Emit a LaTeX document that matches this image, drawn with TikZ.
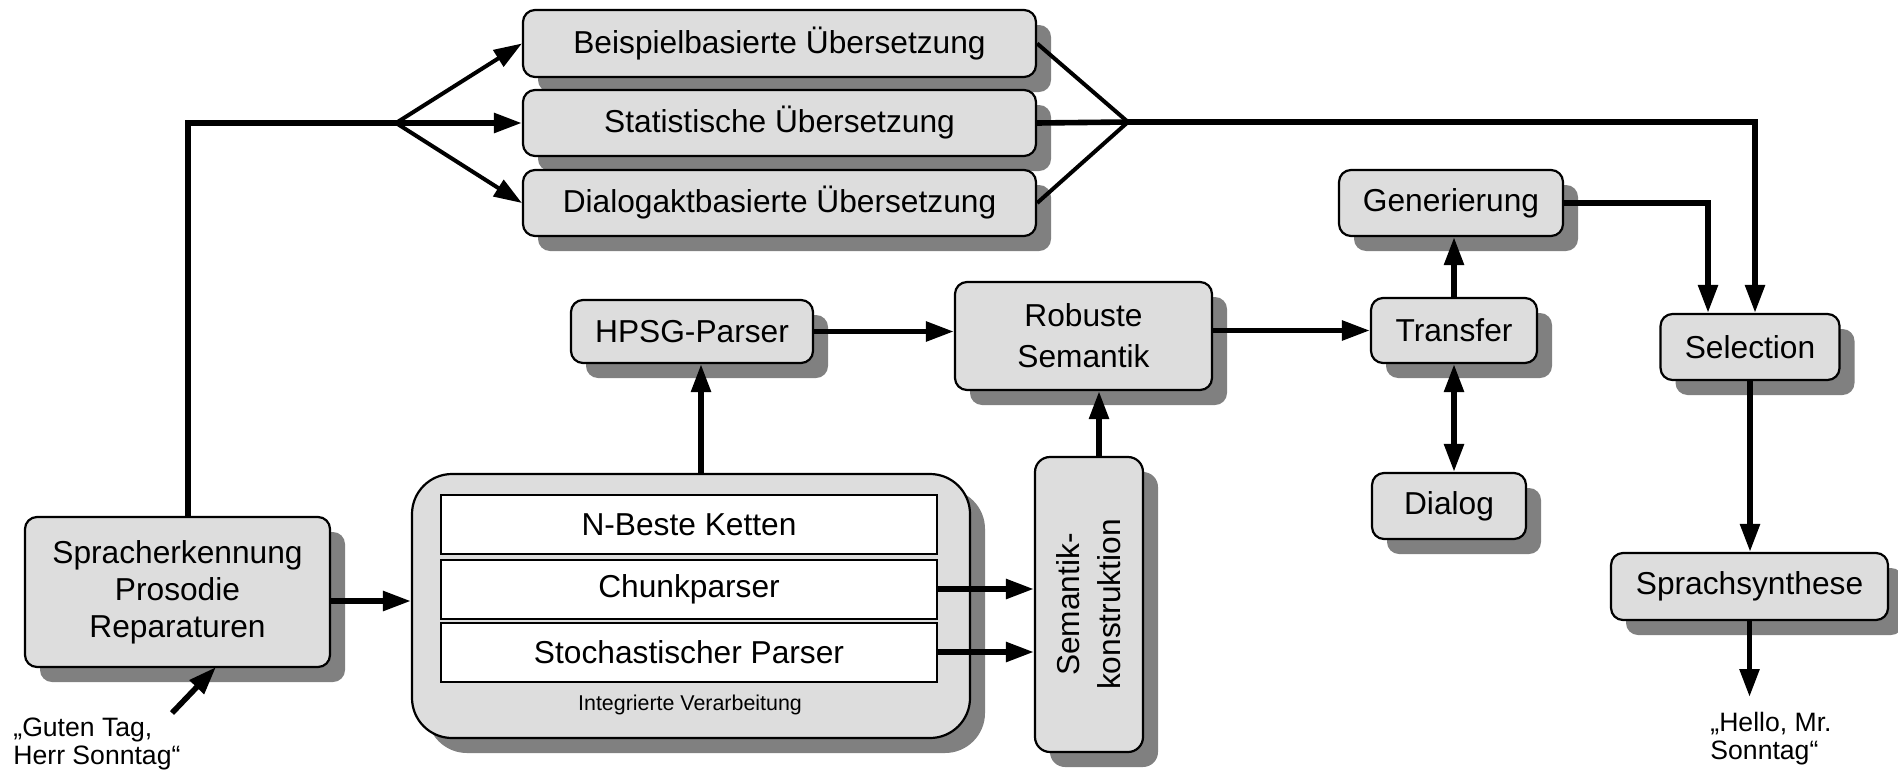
\documentclass[tikz,border=0pt]{standalone}
\usepackage{fontspec}
\setmainfont{Liberation Sans}
\usetikzlibrary{arrows.meta,shadows}
\definecolor{boxgray}{HTML}{DDDDDD}
\definecolor{shadegray}{HTML}{808080}

\begin{document}
\begin{tikzpicture}[x=0.5pt,y=-0.5pt,
  boxfont/.style={font=\fontsize{15.85}{18.5}\selectfont},
  box/.style={draw=black, line width=1.1pt, fill=boxgray, rounded corners=6pt,
    inner sep=0pt, align=center, boxfont,
    drop shadow={shadow xshift=7.5pt, shadow yshift=-7.5pt, fill=shadegray, opacity=1}},
  inner/.style={draw=black, line width=1pt, fill=white, inner sep=0pt,
    minimum width=248pt, minimum height=29.5pt, boxfont},
  conn/.style={line width=2.8pt, line join=miter},
  connthin/.style={line width=2pt},
  arr/.style={conn, -{Triangle[length=14pt,width=9.5pt]}},
  arrthin/.style={connthin, -{Triangle[length=14pt,width=9.5pt]}},
  dblarr/.style={conn, {Triangle[length=14pt,width=9.5pt]}-{Triangle[length=14pt,width=9.5pt]}},
  quote/.style={align=left, inner sep=0pt, font=\fontsize{13.3}{14}\selectfont}]

\useasboundingbox (0,0) rectangle (1898,771);

% translation branches
\node[box, minimum width=256.5pt, minimum height=33.5pt] (bsp)  at (779.5,43.5) {Beispielbasierte Übersetzung};
\node[box, minimum width=256.5pt, minimum height=33pt]   (stat) at (779.5,123)  {Statistische Übersetzung};
\node[box, minimum width=256.5pt, minimum height=33pt]   (dlg)  at (779.5,203)  {Dialogaktbasierte Übersetzung};

% deep analysis chain
\node[box, minimum width=121pt, minimum height=31.5pt]  (hpsg)  at (692,331.5)  {HPSG-Parser};
\node[box, minimum width=128.5pt, minimum height=54pt,
      font=\fontsize{15.85}{20.5}\selectfont] (rob) at (1083.5,336) {Robuste\\Semantik};
\node[box, minimum width=83pt, minimum height=32.5pt]   (trans) at (1454,330.5) {Transfer};
\node[box, minimum width=112pt, minimum height=33pt]    (gen)   at (1451,203)   {Generierung};
\node[box, minimum width=77pt, minimum height=33pt]     (dia)   at (1449,506)   {Dialog};
\node[box, minimum width=89.5pt, minimum height=33pt]   (sel)   at (1750,347)   {Selection};
\node[box, minimum width=138.5pt, minimum height=33.5pt] (synth) at (1749.5,586.5) {Sprachsynthese};

% recognition
\node[box, minimum width=152.5pt, minimum height=75pt] (sprach) at (177.5,592)
  {Spracherkennung\\Prosodie\\Reparaturen};

% integrated processing
\node[box, rounded corners=20pt, minimum width=279pt, minimum height=132pt] (integ) at (691,606) {};
\node[inner] (nbest) at (689,524.5) {N-Beste Ketten};
\node[inner] (chunk) at (689,589)   {Chunkparser};
\node[inner] (stoch) at (689,652)   {Stochastischer Parser};
\node[inner sep=0pt, font=\fontsize{10.7}{12}\selectfont] (intlab) at (690,705) {Integrierte Verarbeitung};

% semantic construction
\node[box, rounded corners=7.5pt, minimum width=54pt, minimum height=147.5pt] (semk) at (1089,604.5) {};
\node[rotate=90, align=center, inner sep=0pt, font=\fontsize{15.85}{20.5}\selectfont] (semklab) at (semk.center) {Semantik-\\konstruktion};

% input and output utterances
\node[quote, anchor=north west] (gt) at (13,718) {„Guten Tag,\\Herr Sonntag“};
\node[quote, anchor=north west] (hello) at (1710,712) {„Hello, Mr.\\Sonntag“};

% helper points
\coordinate (upL)   at (188,123);
\coordinate (split) at (396,123);
\coordinate (join)  at (1128,122);
\coordinate (selin) at (1755,0);
\coordinate (genx)  at (1708,0);
\coordinate (hx)    at (701,0);
\coordinate (sx)    at (1099,0);
\coordinate (gtfrom) at (172,713);
\coordinate (gtto)   at (216,667);
\coordinate (outend) at (1750,697);

% connectors
\draw[conn] (sprach.north -| upL) -- (upL) -- (split);
\draw[arrthin] (split) -- (bsp.west);
\draw[arr] (split) -- (stat.west);
\draw[arrthin] (split) -- (dlg.west);

\draw[connthin] (bsp.east) -- (join);
\draw[connthin] (dlg.east) -- (join);
\draw[arr] (stat.east) -- (join) -| (sel.north -| selin);

\draw[arr] (gen.east) -| (sel.north -| genx);
\draw[arr] (trans.north) -- (trans.north |- gen.south);
\draw[dblarr] (trans.south) -- (trans.south |- dia.north);
\draw[arr] (rob.east |- trans.west) -- (trans.west);
\draw[arr] (hpsg.east) -- (hpsg.east -| rob.west);
\draw[arr] (integ.north -| hx) -- (hpsg.south -| hx);
\draw[arr] (semk.north -| sx) -- (rob.south -| sx);
\draw[arr] (chunk.east) -- (chunk.east -| semk.west);
\draw[arr] (stoch.east) -- (stoch.east -| semk.west);
\draw[arr] ([yshift=-4.5pt]sprach.east) -- ([yshift=-4.5pt]sprach.east -| integ.west);
\draw[arr] (gtfrom) -- (gtto);
\draw[arr] (sel.south) -- (sel.south |- synth.north);
\draw[arr] (synth.south) -- (synth.south |- outend);
\end{tikzpicture}
\end{document}
